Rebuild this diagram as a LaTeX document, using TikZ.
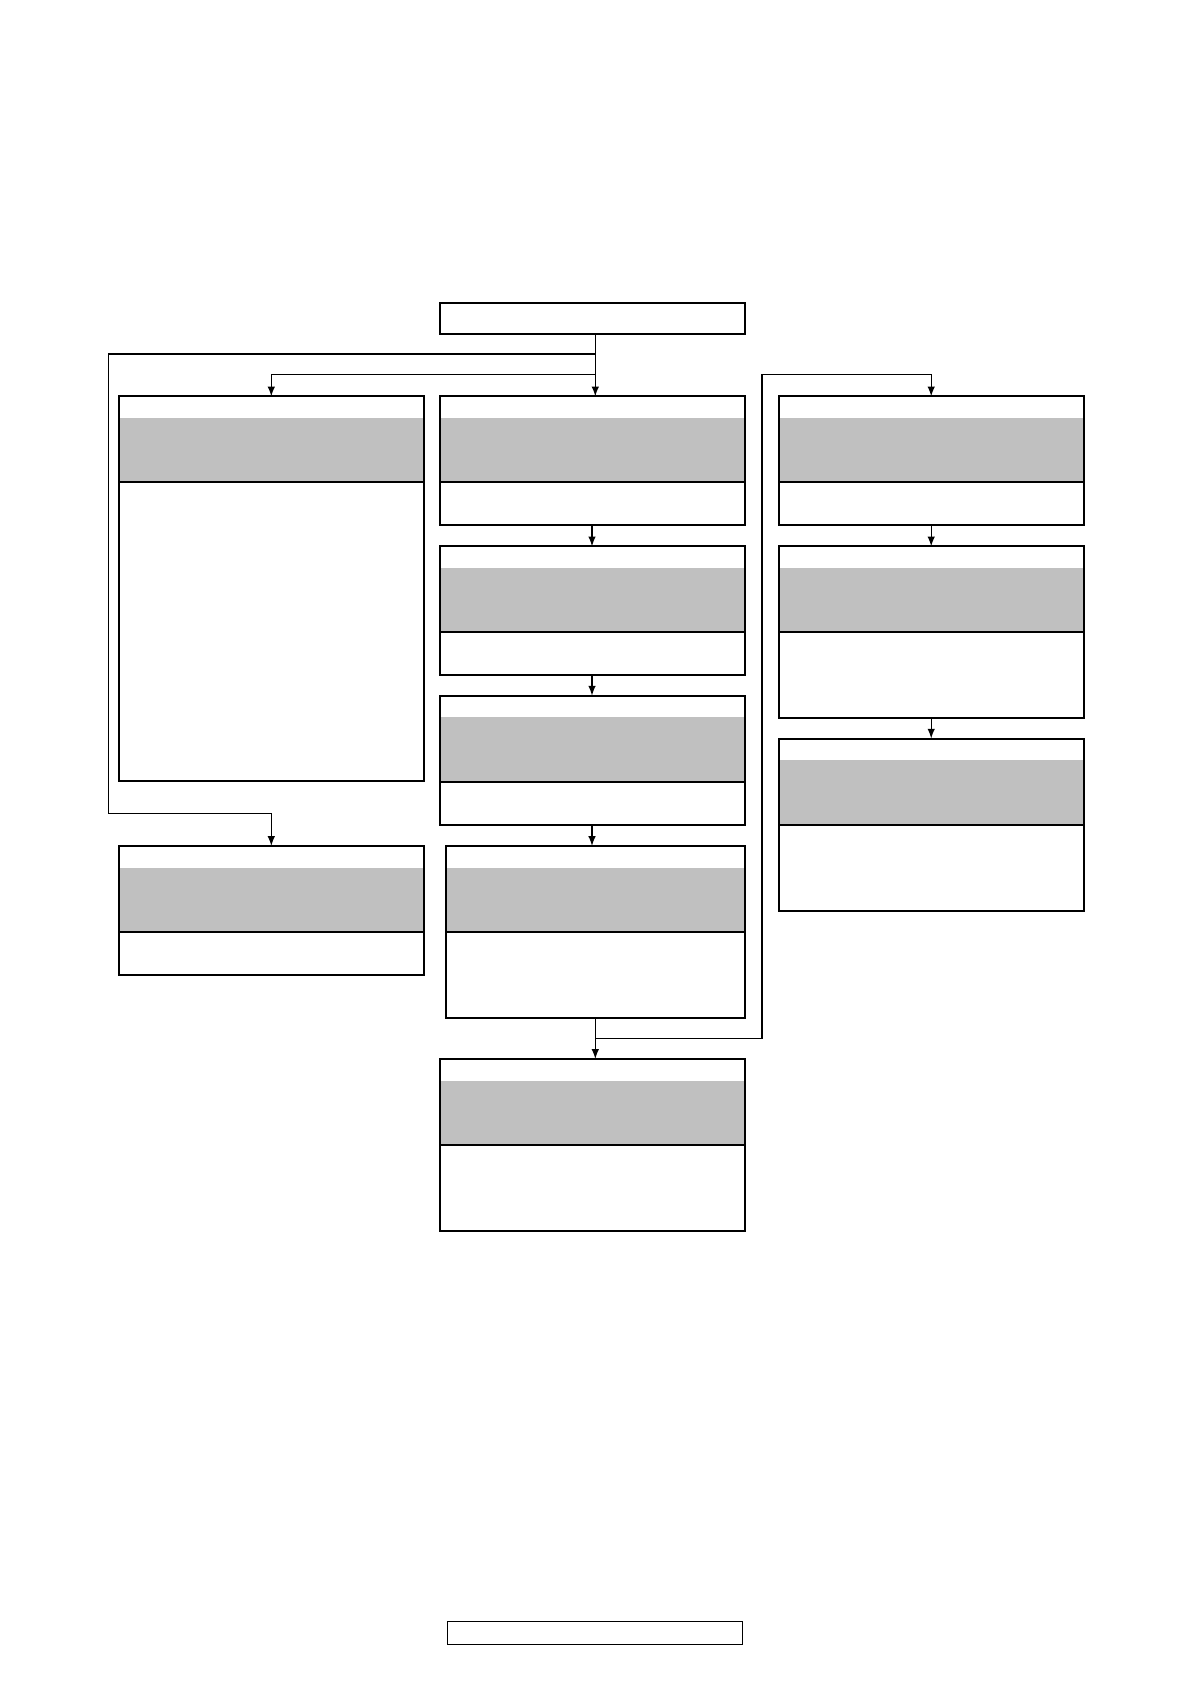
\documentclass[tikz,border=0pt]{standalone}
\usepackage{tikz}
\usetikzlibrary{positioning,arrows}
\definecolor{band}{RGB}{192,192,192}

\begin{document}
\begin{tikzpicture}[
                x=0.5pt,y=-0.5pt,
                head/.style={draw,line width=1pt,outer sep=0pt,anchor=north,
                    minimum width=152.5pt,minimum height=43pt,
                    path picture={\fill[band] ([yshift=-10.75pt]path picture bounding box.north west)
                        rectangle (path picture bounding box.south east);}},
                body/.style={draw,line width=1pt,outer sep=0pt,anchor=north,
                    minimum width=152.5pt,minimum height=21.5pt},
                tall/.style={body,minimum height=43pt},
                link/.style={line width=0.7pt,>=latex}
            ]
                \useasboundingbox (0,0) rectangle (1190,1684);

                % start box
                \node[draw,line width=1pt,outer sep=0pt,minimum width=152.5pt,minimum height=15.5pt]
                    (top) at (592,318.5) {};

                % left column
                \node[head] (l1h) at (271.3,396.4) {};
                \node[body,minimum height=149.5pt,below=0pt of l1h] (l1b) {};
                \node[head] (l2h) at (271.3,846) {};
                \node[body,below=0pt of l2h] (l2b) {};

                % middle column
                \node[head] (m1h) at (592,396.4) {};
                \node[body,below=0pt of m1h] (m1b) {};
                \node[head] (m2h) at (592,546.4) {};
                \node[body,below=0pt of m2h] (m2b) {};
                \node[head] (m3h) at (592,695.7) {};
                \node[body,below=0pt of m3h] (m3b) {};
                \node[head,minimum width=149.5pt] (m4h) at (595.3,846) {};
                \node[tall,minimum width=149.5pt,below=0pt of m4h] (m4b) {};
                \node[head] (m5h) at (592,1059) {};
                \node[tall,below=0pt of m5h] (m5b) {};

                % right column
                \node[head] (r1h) at (931.2,396.4) {};
                \node[body,below=0pt of r1h] (r1b) {};
                \node[head] (r2h) at (931.2,546.4) {};
                \node[tall,below=0pt of r2h] (r2b) {};
                \node[head] (r3h) at (931.2,738.6) {};
                \node[tall,below=0pt of r3h] (r3b) {};

                % footer box
                \node[draw,line width=0.7pt,minimum width=147.5pt,minimum height=11.5pt]
                    (foot) at (595,1632.7) {};

                \coordinate (ja) at (595.3,354);
                \coordinate (jb) at (595.3,374.6);
                \coordinate (jc) at (595.3,1038.7);
                \coordinate (lc) at (108.5,813.7);
                \coordinate (rc) at (761.8,374.6);

                \begin{scope}[link]
                    \draw[->] (top.south -| jb) -- (jb |- m1h.north);
                    \draw[->] (jb) -| (l1h.north);
                    \draw[->] (ja) -| (lc) -| (l2h.north);
                    \draw[->] (m1b.south) -- (m2h.north);
                    \draw[->] (m2b.south) -- (m3h.north);
                    \draw[->] (m3b.south) -- (m3b.south |- m4h.north);
                    \draw[->] (m4b.south) -- (m4b.south |- m5h.north);
                    \draw[->] (jc) -| (rc) -| (r1h.north);
                    \draw[->] (r1b.south) -- (r2h.north);
                    \draw[->] (r2b.south) -- (r3h.north);
                \end{scope}
            \end{tikzpicture}
\end{document}
